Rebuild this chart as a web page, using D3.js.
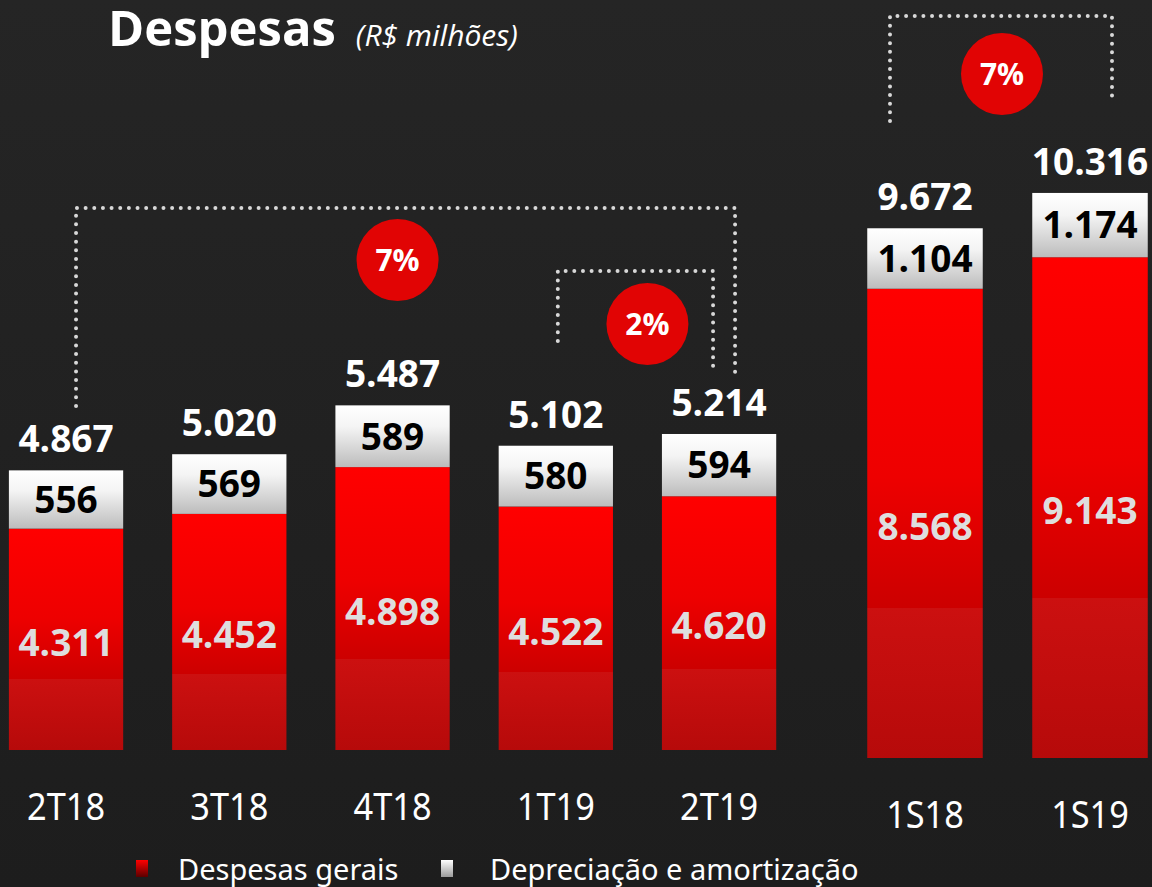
<!DOCTYPE html>
<html>
<head>
<meta charset="utf-8">
<script src="https://cdn.jsdelivr.net/npm/d3@7"></script>
<style>
  html, body { margin: 0; padding: 0; background: #212121; }
  svg { display: block; }
</style>
</head>
<body>
<script>
// data (R$ milhões)
var quarters = ["2T18", "3T18", "4T18", "1T19", "2T19"];
var qGerais = [4311, 4452, 4898, 4522, 4620];
var qDeprec = [556, 569, 589, 580, 594];
var qTotal = [4867, 5020, 5487, 5102, 5214];

var semesters = ["1S18", "1S19"];
var sGerais = [8568, 9143];
var sDeprec = [1104, 1174];
var sTotal = [9672, 10316];

var growth = [
  { from: "2T18", to: "2T19", label: "7%" },
  { from: "1T19", to: "2T19", label: "2%" },
  { from: "1S18", to: "1S19", label: "7%" }
];

var legendNames = ["Despesas gerais", "Depreciação e amortização"];

var width = 1152, height = 887;
var br = d3.formatLocale({ decimal: ",", thousands: ".", grouping: [3], currency: ["R$", ""] });
var fmt = br.format(",d");

var svg = d3.select("body").append("svg")
  .attr("width", width)
  .attr("height", height);

var defs = svg.append("defs");

var bg = defs.append("linearGradient").attr("id", "bg").attr("x1", 0).attr("y1", 0).attr("x2", 0).attr("y2", 1);
bg.append("stop").attr("offset", 0).attr("stop-color", "#252525");
bg.append("stop").attr("offset", 1).attr("stop-color", "#1d1d1d");

var gRed = defs.append("linearGradient").attr("id", "gRed").attr("x1", 0).attr("y1", 0).attr("x2", 0).attr("y2", 1);
gRed.append("stop").attr("offset", 0).attr("stop-color", "#ff0000");
gRed.append("stop").attr("offset", 0.4).attr("stop-color", "#ee0000");
gRed.append("stop").attr("offset", 0.68).attr("stop-color", "#cc0000");
gRed.append("stop").attr("offset", 0.68).attr("stop-color", "#cc1010");
gRed.append("stop").attr("offset", 1).attr("stop-color", "#b60a0a");

var gWhite = defs.append("linearGradient").attr("id", "gWhite").attr("x1", 0).attr("y1", 0).attr("x2", 0).attr("y2", 1);
gWhite.append("stop").attr("offset", 0).attr("stop-color", "#ffffff");
gWhite.append("stop").attr("offset", 0.35).attr("stop-color", "#f4f4f4");
gWhite.append("stop").attr("offset", 1).attr("stop-color", "#bcbcbc");

var gLegRed = defs.append("linearGradient").attr("id", "gLegRed").attr("x1", 0).attr("y1", 0).attr("x2", 0).attr("y2", 1);
gLegRed.append("stop").attr("offset", 0).attr("stop-color", "#ff0000");
gLegRed.append("stop").attr("offset", 1).attr("stop-color", "#5a0000");

var gLegWhite = defs.append("linearGradient").attr("id", "gLegWhite").attr("x1", 0).attr("y1", 0).attr("x2", 0).attr("y2", 1);
gLegWhite.append("stop").attr("offset", 0).attr("stop-color", "#ffffff");
gLegWhite.append("stop").attr("offset", 1).attr("stop-color", "#9a9a9a");

svg.append("rect").attr("width", width).attr("height", height).attr("fill", "url(#bg)");

// title
var title = svg.append("text")
  .attr("x", 108).attr("y", 46)
  .attr("fill", "#fff")
  .style("font-family", "'Open Sans', sans-serif");
title.append("tspan").text("Despesas")
  .style("font-size", "49px").style("font-weight", "bold");
title.append("tspan").text("(R$ milhões)")
  .attr("dx", 20)
  .style("font-size", "30px").style("font-style", "italic");

// scales
var xq = d3.scaleBand().domain(quarters).range([-15.6, 800.7]).paddingInner(0.3).paddingOuter(0.15);
var yq = d3.scaleLinear().domain([2200, 5500]).range([750, 404]).clamp(true);

var xs = d3.scaleBand().domain(semesters).range([842.5, 1172.5]).paddingInner(0.3).paddingOuter(0.15);
var ys = d3.scaleLinear().domain([0, 10316]).range([758, 193]);

function table(cats, gerais, deprec, total) {
  return cats.map(function (c, i) {
    return { cat: c, gerais: gerais[i], deprec: deprec[i], total: total[i] };
  });
}

var stack = d3.stack().keys(["gerais", "deprec"]);

function drawGroup(rows, x, y, labelY, redShift) {
  var series = stack(rows);
  var g = svg.append("g");

  // red segment
  g.selectAll("rect.red")
    .data(series[0])
    .enter().append("rect")
    .attr("class", "red")
    .attr("x", d => x(d.data.cat))
    .attr("width", x.bandwidth())
    .attr("y", d => y(d[1]))
    .attr("height", d => y(d[0]) - y(d[1]))
    .attr("fill", "url(#gRed)");

  // white segment
  g.selectAll("rect.white")
    .data(series[1])
    .enter().append("rect")
    .attr("class", "white")
    .attr("x", d => x(d.data.cat))
    .attr("width", x.bandwidth())
    .attr("y", d => y(d[1]))
    .attr("height", d => y(d[0]) - y(d[1]))
    .attr("fill", "url(#gWhite)");

  var numFont = "'Open Sans', sans-serif";

  g.selectAll("text.red")
    .data(series[0])
    .enter().append("text")
    .attr("x", d => x(d.data.cat) + x.bandwidth() / 2)
    .attr("y", d => (y(d[0]) + y(d[1])) / 2 + redShift)
    .attr("dy", "0.36em")
    .attr("text-anchor", "middle")
    .attr("fill", "#dedede")
    .style("font-family", numFont).style("font-weight", "bold").style("font-size", "37px")
    .text(d => fmt(d.data.gerais));

  g.selectAll("text.white")
    .data(series[1])
    .enter().append("text")
    .attr("x", d => x(d.data.cat) + x.bandwidth() / 2)
    .attr("y", d => (y(d[0]) + y(d[1])) / 2)
    .attr("dy", "0.36em")
    .attr("text-anchor", "middle")
    .attr("fill", "#000")
    .style("font-family", numFont).style("font-weight", "bold").style("font-size", "37px")
    .text(d => fmt(d.data.deprec));

  g.selectAll("text.total")
    .data(rows)
    .enter().append("text")
    .attr("x", d => x(d.cat) + x.bandwidth() / 2)
    .attr("y", d => y(d.total) - 18)
    .attr("text-anchor", "middle")
    .attr("fill", "#fff")
    .style("font-family", numFont).style("font-weight", "bold").style("font-size", "37px")
    .text(d => fmt(d.total));

  // category axis
  var axis = svg.append("g")
    .attr("transform", "translate(0," + labelY + ")")
    .call(d3.axisBottom(x).tickSize(0).tickPadding(0));
  axis.select(".domain").remove();
  axis.selectAll("text")
    .attr("y", 0).attr("dy", 0)
    .attr("fill", "#fff")
    .style("font-family", "'Noto Sans', sans-serif")
    .style("font-size", "39px")
    .each(function () {
      var len = this.getComputedTextLength();
      d3.select(this).attr("textLength", len * 0.88).attr("lengthAdjust", "spacingAndGlyphs");
    });
}

drawGroup(table(quarters, qGerais, qDeprec, qTotal), xq, yq, 820, 3);
drawGroup(table(semesters, sGerais, sDeprec, sTotal), xs, ys, 828, 3);

// growth brackets (dotted)
var bracketGeom = [
  { dxFrom: 10, dxTo: 16, top: 208, yFrom: 406, yTo: 374, cdx: -8, cy: 260 },
  { dxFrom: 2, dxTo: -6, top: 271, yFrom: 341, yTo: 372, cdx: 12, cy: 324 },
  { dxFrom: -35, dxTo: 22, top: 16, yFrom: 121, yTo: 100, cdx: 1, cy: 74 }
];

function catX(c) {
  if (quarters.indexOf(c) >= 0) return xq(c) + xq.bandwidth() / 2;
  return xs(c) + xs.bandwidth() / 2;
}

growth.forEach(function (b, i) {
  var gm = bracketGeom[i];
  var x1 = catX(b.from) + gm.dxFrom;
  var x2 = catX(b.to) + gm.dxTo;
  var p = d3.path();
  p.moveTo(x1, gm.yFrom);
  p.lineTo(x1, gm.top);
  p.lineTo(x2, gm.top);
  p.lineTo(x2, gm.yTo);
  svg.append("path")
    .attr("d", p.toString())
    .attr("fill", "none")
    .attr("stroke", "#d8d8d8")
    .attr("stroke-width", 4)
    .attr("stroke-linecap", "round")
    .attr("stroke-dasharray", "0 8.65");

  var cx = (x1 + x2) / 2 + gm.cdx;
  svg.append("circle")
    .attr("cx", cx).attr("cy", gm.cy).attr("r", 41)
    .attr("fill", "#e10404");
  svg.append("text")
    .attr("x", cx).attr("y", gm.cy)
    .attr("dy", "0.36em")
    .attr("text-anchor", "middle")
    .attr("fill", "#fff")
    .style("font-family", "'Open Sans', sans-serif")
    .style("font-weight", "bold").style("font-size", "30px")
    .text(b.label);
});

// legend
var legend = svg.append("g");
var legX = [136, 441];
var legTextX = [178, 490];
legendNames.forEach(function (name, i) {
  legend.append("rect")
    .attr("x", legX[i]).attr("y", 860)
    .attr("width", 12).attr("height", 17)
    .attr("fill", i === 0 ? "url(#gLegRed)" : "url(#gLegWhite)");
  legend.append("text")
    .attr("x", legTextX[i]).attr("y", 880)
    .attr("fill", "#fff")
    .style("font-family", "'Noto Sans', sans-serif")
    .style("font-size", "29px")
    .text(name);
});
</script>
</body>
</html>
